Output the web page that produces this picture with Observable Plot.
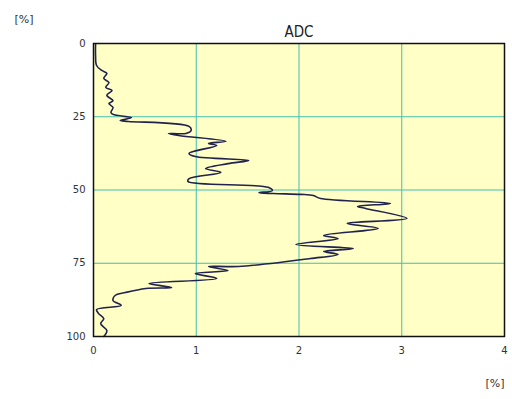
<!DOCTYPE html>
<html>
<head>
<meta charset="utf-8">
<script src="https://cdn.jsdelivr.net/npm/d3@7"></script>
<script src="https://cdn.jsdelivr.net/npm/@observablehq/plot@0.6"></script>
<style>
  html, body { margin: 0; padding: 0; background: #fff; }
  svg { display: block; }
</style>
</head>
<body>
<div id="chart"></div>
<script>
// ADC profile: value [%] (x) vs position [%] (y), in drawing order
const adcValue = [0.02,0.02,0.03,0.08,0.13,0.10,0.15,0.12,0.18,0.13,0.19,0.15,0.19,0.17,0.19,
  0.37,0.26,0.34,0.93,0.95,0.90,0.73,0.83,1.29,1.12,1.20,0.93,0.99,1.51,1.31,1.09,1.24,0.93,0.92,
  1.70,1.74,1.61,1.75,2.02,2.14,2.21,2.89,2.57,2.65,3.05,2.47,2.77,2.24,2.38,1.97,2.53,2.24,2.38,2.11,
  1.41,1.12,1.31,0.99,1.20,0.54,0.76,0.51,0.31,0.21,0.19,0.27,0.03,0.05,0.10,0.07,0.13,0.10];
const position = [0.3,4.1,7.5,9.2,10.2,11.9,13.3,15.0,16.0,17.7,19.5,20.5,21.8,23.5,24.2,
  25.3,26.3,26.6,28.3,29.7,30.7,30.7,31.4,33.4,34.1,34.8,37.5,38.6,39.9,41.0,42.7,44.0,46.1,47.1,
  49.1,50.2,50.9,51.2,51.5,51.9,52.9,54.6,55.6,56.3,59.7,61.4,63.1,65.5,66.6,68.6,70.0,71.0,72.0,73.4,
  76.1,76.1,77.5,78.5,80.2,81.9,83.3,83.6,85.0,86.0,87.7,89.4,90.8,92.2,93.9,95.6,98.0,100];
const xTicks = [0, 1, 2, 3, 4];
const yTicks = [0, 25, 50, 75, 100];
const titleText = "ADC";
const unitLabel = "[%]";

const data = adcValue.map((v, i) => ({v, p: position[i]}));

const gridColor = "#3fbfb5";
const chart = Plot.plot({
  width: 512,
  height: 399,
  marginLeft: 93,
  marginRight: 8,
  marginTop: 43,
  marginBottom: 63,
  style: {background: "#fff", fontFamily: "DejaVu Sans, sans-serif"},
  x: {domain: [0, 4], ticks: xTicks, tickFormat: d3.format("d"), tickSize: 0, tickPadding: 10, label: null},
  y: {domain: [0, 100], reverse: true, ticks: yTicks, tickFormat: d3.format("d"), tickSize: 0, tickPadding: 8, label: null},
  marks: [
    Plot.frame({fill: "#ffffc6", stroke: null}),
    Plot.gridX(xTicks.slice(1, -1), {stroke: gridColor, strokeOpacity: 1, strokeWidth: 1}),
    Plot.gridY(yTicks.slice(1, -1), {stroke: gridColor, strokeOpacity: 1, strokeWidth: 1}),
    Plot.line(data, {x: "v", y: "p", stroke: "#22224e", strokeWidth: 1.6, curve: "catmull-rom"}),
    Plot.frame({stroke: "#111", strokeWidth: 1.5}),
    Plot.text([titleText], {frameAnchor: "top", dy: -17, fontSize: 15, fill: "#222",
      fontFamily: "DejaVu Sans Condensed, DejaVu Sans, sans-serif"}),
    Plot.text([unitLabel], {frameAnchor: "top-left", dx: -79, dy: -28, fontSize: 11, fill: "#333"}),
    Plot.text([unitLabel], {frameAnchor: "bottom-right", dx: 0, dy: 50, fontSize: 11, fill: "#333"})
  ]
});
chart.querySelectorAll("g[aria-label='y-axis tick label'] text, g[aria-label='x-axis tick label'] text").forEach(t => t.setAttribute("fill", "#333"));
document.getElementById("chart").appendChild(chart);
</script>
</body>
</html>
